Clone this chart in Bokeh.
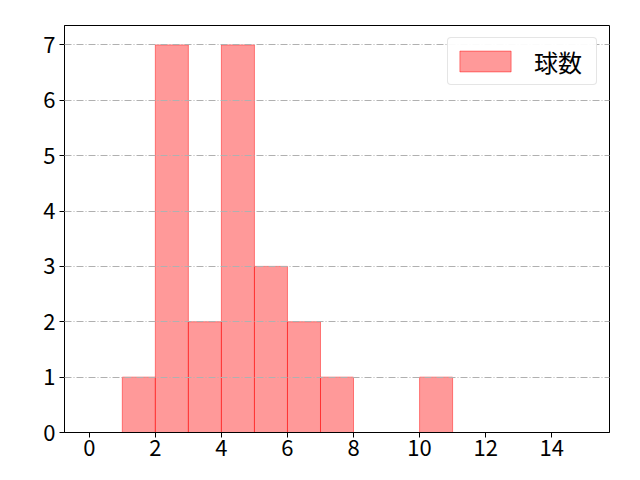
from bokeh.plotting import figure
from bokeh.models import Range1d, FixedTicker, ColumnDataSource
from bokeh.embed import file_html
from bokeh.resources import INLINE

bin_left = [0, 1, 2, 3, 4, 5, 6, 7, 8, 9, 10, 11, 12, 13, 14]
bin_right = [1, 2, 3, 4, 5, 6, 7, 8, 9, 10, 11, 12, 13, 14, 15]
counts = [0, 1, 7, 2, 7, 3, 2, 1, 0, 0, 1, 0, 0, 0, 0]
x_ticks = [0, 2, 4, 6, 8, 10, 12, 14]
y_ticks = [0, 1, 2, 3, 4, 5, 6, 7]
label = "球数"

FONT = "Noto Sans CJK JP"

src = ColumnDataSource(dict(left=bin_left, right=bin_right, top=counts,
                            bottom=[0] * len(counts)))

p = figure(output_backend="svg", toolbar_location=None,
           frame_width=545, frame_height=407,
           min_border_left=64, min_border_right=15,
           min_border_top=25, min_border_bottom=32,
           x_range=Range1d(-0.75, 15.75), y_range=Range1d(0, 7.35))
p.outline_line_color = "black"
p.outline_line_width = 1
p.background_fill_color = "white"
p.border_fill_color = "white"

p.quad(left="left", right="right", top="top", bottom="bottom", source=src,
       fill_color="red", fill_alpha=0.4, line_color="red", line_alpha=0.45,
       line_width=1, legend_label=label)

for ax in (p.xaxis, p.yaxis):
    ax.major_label_text_font = FONT
    ax.major_label_text_font_size = "22px"
    ax.major_label_text_color = "black"
    ax.axis_line_color = "black"
    ax.major_tick_line_color = "black"
    ax.major_tick_out = 5
    ax.major_tick_in = 0
    ax.minor_tick_line_color = None
p.xaxis.ticker = FixedTicker(ticks=x_ticks)
p.yaxis.ticker = FixedTicker(ticks=y_ticks)
p.xaxis.major_label_standoff = 2
p.yaxis.major_label_standoff = 4

p.xgrid.grid_line_color = None
p.ygrid.grid_line_color = "#b0b0b0"
p.ygrid.grid_line_dash = "7 2 1 2"
p.ygrid.grid_line_width = 1
p.ygrid.level = "overlay"

lg = p.legend[0]
lg.location = "top_right"
lg.label_text_font = FONT
lg.label_text_font_size = "24px"
lg.label_text_color = "black"
lg.border_line_color = "#cccccc"
lg.border_line_width = 1
lg.border_radius = 4
lg.glyph_width = 64
lg.glyph_height = 26
lg.label_width = 57
lg.label_height = 36
lg.label_standoff = 17
lg.padding = 5
lg.margin = 12
lg.spacing = 0

open("out.html", "w").write(file_html(p, INLINE))
